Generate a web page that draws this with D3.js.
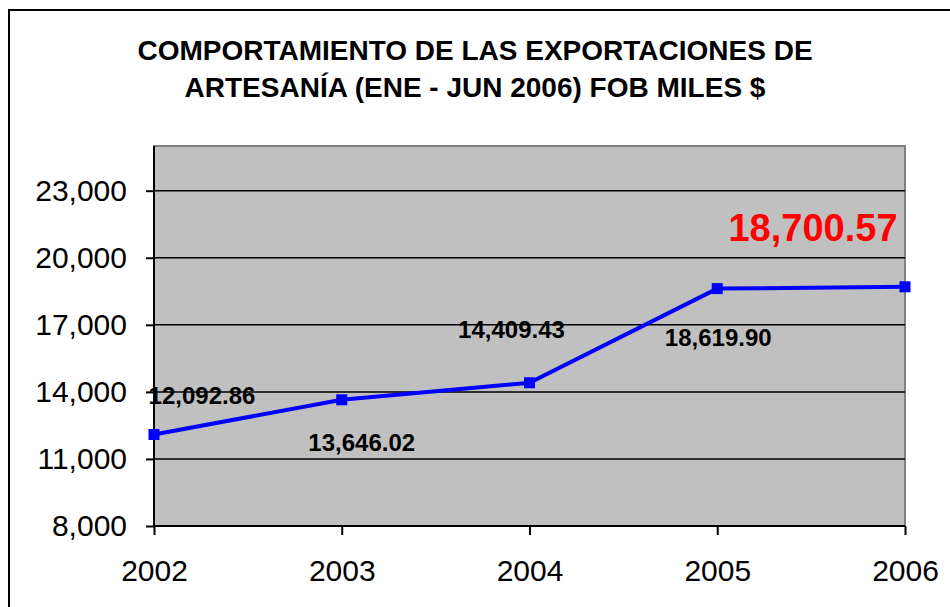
<!DOCTYPE html>
<html>
<head>
<meta charset="utf-8">
<script src="https://cdn.jsdelivr.net/npm/d3@7"></script>
<style>
  body { margin: 0; background: #fff; }
  svg { display: block; font-family: Arial, "Liberation Sans", sans-serif; }
</style>
</head>
<body>
<div id="chart"></div>
<script>
// chart data
const years = ["2002", "2003", "2004", "2005", "2006"];
const values = [12092.86, 13646.02, 14409.43, 18619.90, 18700.57];
const yTicks = [8000, 11000, 14000, 17000, 20000, 23000];
const titleLines = ["COMPORTAMIENTO DE LAS EXPORTACIONES DE", "ARTESANÍA (ENE - JUN 2006) FOB MILES $"];

// where each value label sits relative to its point (hand placed in the original)
const labelOffsets = [[48, -31], [20, 51], [-18, -45], [1, 57], [-92, -46]];

const width = 950, height = 607;
const margin = {top: 146, right: 45, bottom: 81, left: 154};

const svg = d3.select("#chart")
  .append("svg")
  .attr("width", width)
  .attr("height", height);

// outer frame of the chart
svg.append("rect")
  .attr("x", 9).attr("y", 10)
  .attr("width", width).attr("height", height)
  .attr("fill", "none")
  .attr("stroke", "#000")
  .attr("stroke-width", 2);

// title
svg.append("g")
  .selectAll("text")
  .data(titleLines)
  .enter()
  .append("text")
    .attr("x", 475)
    .attr("y", (d, i) => 60 + i * 37)
    .attr("text-anchor", "middle")
    .attr("font-size", "28px")
    .attr("font-weight", "bold")
    .text(d => d);

// scales
let xScale = d3.scalePoint()
  .domain(years)
  .range([margin.left, width - margin.right]);

let yScale = d3.scaleLinear()
  .domain([8000, 25000])
  .range([height - margin.bottom, margin.top]);

// plot area
svg.append("rect")
  .attr("x", margin.left)
  .attr("y", margin.top)
  .attr("width", width - margin.right - margin.left)
  .attr("height", height - margin.bottom - margin.top)
  .attr("fill", "#C0C0C0")
  .attr("stroke", "#808080")
  .attr("stroke-width", 2);

// gridlines
svg.append("g")
  .selectAll("line")
  .data(yTicks.slice(1))
  .enter()
  .append("line")
    .attr("x1", margin.left)
    .attr("x2", width - margin.right)
    .attr("y1", d => yScale(d))
    .attr("y2", d => yScale(d))
    .attr("stroke", "#000")
    .attr("stroke-width", 1.5);

// y axis
const yAxis = svg.append("g")
  .attr("transform", `translate(${margin.left},0)`)
  .call(d3.axisLeft(yScale)
    .tickValues(yTicks)
    .tickSize(8)
    .tickPadding(19)
    .tickFormat(d3.format(",")));

yAxis.select(".domain").remove();
yAxis.append("line")
  .attr("x1", 0).attr("x2", 0)
  .attr("y1", margin.top).attr("y2", height - margin.bottom)
  .attr("stroke", "#000").attr("stroke-width", 2);
yAxis.selectAll(".tick line").attr("stroke-width", 2);
yAxis.selectAll("text")
  .attr("font-size", "30px")
  .attr("font-family", "Arial, 'Liberation Sans', sans-serif")
  .attr("fill", "#000");

// x axis
const xAxis = svg.append("g")
  .attr("transform", `translate(0,${height - margin.bottom})`)
  .call(d3.axisBottom(xScale).tickSize(9));

xAxis.select(".domain").remove();
xAxis.append("line")
  .attr("x1", margin.left).attr("x2", width - margin.right)
  .attr("y1", 0).attr("y2", 0)
  .attr("stroke", "#000").attr("stroke-width", 2);
xAxis.selectAll(".tick line").attr("stroke-width", 2);
xAxis.selectAll("text")
  .attr("y", 55)
  .attr("dy", 0)
  .attr("font-size", "30px")
  .attr("font-family", "Arial, 'Liberation Sans', sans-serif")
  .attr("fill", "#000");

// line
const line = d3.line()
  .x((d, i) => xScale(years[i]))
  .y(d => yScale(d));

svg.append("path")
  .datum(values)
  .attr("fill", "none")
  .attr("stroke", "#0000FF")
  .attr("stroke-width", 4)
  .attr("d", line);

// markers
svg.selectAll(".marker")
  .data(values)
  .enter()
  .append("rect")
    .attr("class", "marker")
    .attr("x", (d, i) => xScale(years[i]) - 5.5)
    .attr("y", d => yScale(d) - 5.5)
    .attr("width", 11)
    .attr("height", 11)
    .attr("fill", "#0000FF");

// value labels
const fmt = d3.format(",.2f");
svg.selectAll(".vlabel")
  .data(values)
  .enter()
  .append("text")
    .attr("class", "vlabel")
    .attr("x", (d, i) => xScale(years[i]) + labelOffsets[i][0])
    .attr("y", (d, i) => yScale(d) + labelOffsets[i][1])
    .attr("text-anchor", "middle")
    .attr("font-weight", "bold")
    .attr("font-size", (d, i) => i === values.length - 1 ? "38px" : "24px")
    .attr("fill", (d, i) => i === values.length - 1 ? "#FF0000" : "#000")
    .text(d => fmt(d));
</script>
</body>
</html>
